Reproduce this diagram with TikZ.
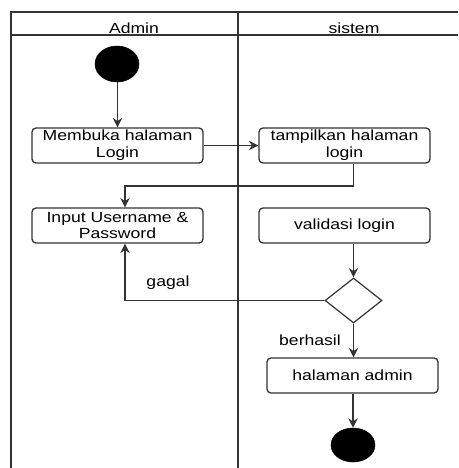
\documentclass[tikz,border=0pt]{standalone}
\usepackage{fontspec}
\setmainfont{Liberation Sans}[FakeStretch=1.2]
\usetikzlibrary{shapes.geometric,arrows.meta,calc}
\definecolor{ln}{HTML}{333333}
\begin{document}
\begin{tikzpicture}[x=0.75pt,y=-0.75pt,
  every node/.style={font=\fontsize{11}{12.5}\selectfont, text=black},
  act/.style={draw=ln, line width=1pt, rounded corners=3pt, minimum width=128.25pt, minimum height=26.25pt, inner sep=0pt, align=center},
  terminal/.style={ellipse, fill=black, draw=black, inner sep=0pt},
  dec/.style={diamond, draw=ln, line width=0.9pt, minimum width=42.75pt, minimum height=33.75pt, inner sep=0pt, aspect=1.27},
  arr/.style={draw=ln, line width=1pt, -{Stealth[length=7pt,width=7pt]}},
  lane/.style={draw=ln, line width=1.1pt}]
\useasboundingbox (0,0) rectangle (458,468);
% swimlanes
\draw[lane] (11,468) -- (11,12) -- (458,12);
\draw[lane] (11,35) -- (458,35);
\draw[lane] (238,12) -- (238,468);
\node[anchor=base] (hadmin) at (134,33) {Admin};
\node[anchor=base] (hsistem) at (354,33) {sistem};
% nodes
\node[terminal, minimum width=33pt, minimum height=27pt] (start) at (117,64) {};
\node[act] (membuka) at (117.5,145.5) {Membuka halaman\\Login};
\node[act] (tampil) at (344.5,145.5) {tampilkan halaman\\login};
\node[act] (input) at (117.5,225.5) {Input Username \&\\Password};
\node[act] (valid) at (344.5,225.5) {validasi login};
\node[dec] (d) at (353.5,300.5) {};
\node[act] (admin) at (352.5,375.5) {halaman admin};
\node[terminal, minimum width=33pt, minimum height=25.5pt] (end) at (353,445) {};
\coordinate (c1) at (125,186);
% connectors
\draw[arr] (start.south -| membuka.north) -- (membuka.north);
\draw[arr] (membuka.east) -- (tampil.west);
\draw[arr] (tampil.south -| d.north) |- (c1) -- (c1 |- input.north);
\draw[arr] (valid.south -| d.north) -- (d.north);
\draw[arr] (d.west) -| (c1 |- input.south);
\draw[arr] (d.south) -- (d.south |- admin.north);
\draw[arr] (admin.south -| end.north) -- (end.north);
\node (gagal) at (168,283) {gagal};
\node (berhasil) at (310,340) {berhasil};
\end{tikzpicture}
\end{document}
